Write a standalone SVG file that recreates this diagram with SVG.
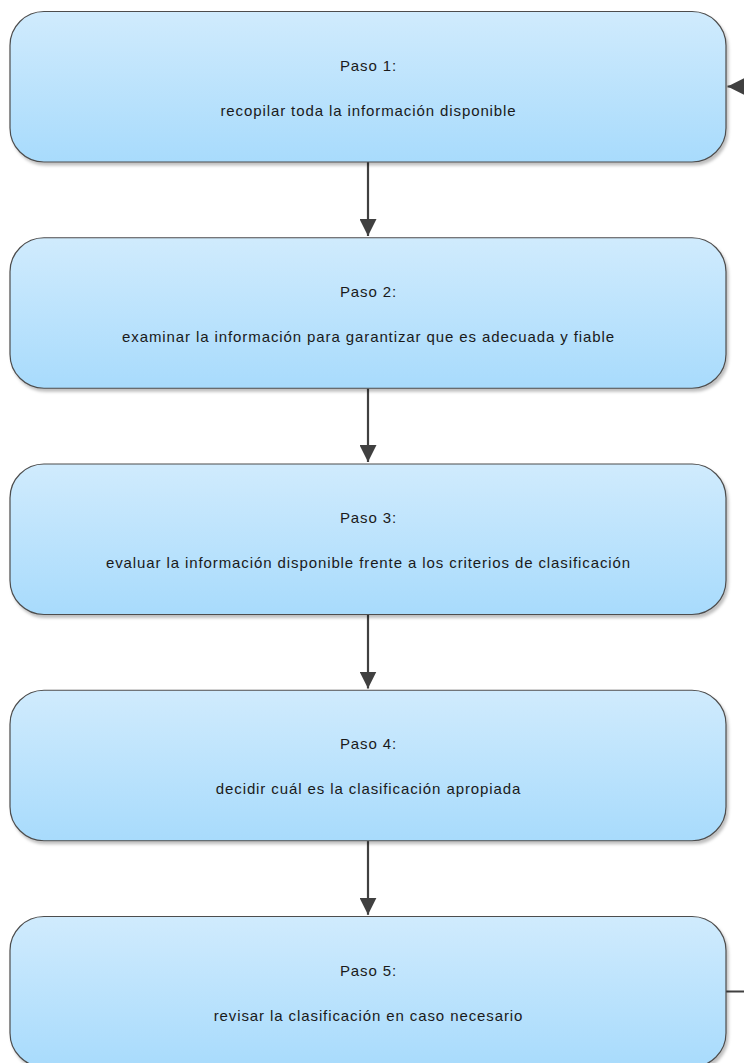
<svg xmlns="http://www.w3.org/2000/svg" width="744" height="1063" viewBox="0 0 744 1063">
<style>
.box{fill:url(#g);stroke:#4d4d4d;stroke-width:1.2;filter:url(#sh)}
.t{font-family:"Liberation Sans",Arial,sans-serif;font-size:15px;fill:#1a1a1a;text-anchor:middle;letter-spacing:0.9px}
.c{fill:none;stroke:#404040;stroke-width:2.2}
</style>
<defs>
<linearGradient id="g" x1="0" y1="0" x2="0" y2="1">
<stop offset="0" stop-color="#d0ebfd"/>
<stop offset="1" stop-color="#a8dbfc"/>
</linearGradient>
<filter id="sh" x="-5%" y="-10%" width="115%" height="130%">
<feDropShadow dx="2" dy="3" stdDeviation="1.5" flood-color="#000" flood-opacity="0.25"/>
</filter>
<marker id="ah" viewBox="0 0 10 10" refX="10" refY="5" markerWidth="17" markerHeight="17" markerUnits="userSpaceOnUse" orient="auto">
<path d="M0,0 L10,5 L0,10 Z" fill="#404040"/>
</marker>
</defs>
<g id="connectors">
<path class="c" d="M368,162 V236" marker-end="url(#ah)"/>
<path class="c" d="M368,388.5 V462" marker-end="url(#ah)"/>
<path class="c" d="M368,614.5 V688.5" marker-end="url(#ah)"/>
<path class="c" d="M368,840.8 V914.8" marker-end="url(#ah)"/>
<path class="c" d="M726,991.5 H752 V86.5 H727.5" marker-end="url(#ah)"/>
</g>
<g id="paso1">
<rect class="box" x="10" y="11.5" width="716" height="150.5" rx="34" ry="34"/>
<text class="t" x="368.5" y="70.5">Paso 1:</text>
<text class="t" x="368.5" y="115.5">recopilar toda la información disponible</text>
</g>
<g id="paso2">
<rect class="box" x="10" y="237.75" width="716" height="150.5" rx="34" ry="34"/>
<text class="t" x="368.5" y="296.75">Paso 2:</text>
<text class="t" x="368.5" y="341.75">examinar la información para garantizar que es adecuada y fiable</text>
</g>
<g id="paso3">
<rect class="box" x="10" y="464" width="716" height="150.5" rx="34" ry="34"/>
<text class="t" x="368.5" y="523">Paso 3:</text>
<text class="t" x="368.5" y="568">evaluar la información disponible frente a los criterios de clasificación</text>
</g>
<g id="paso4">
<rect class="box" x="10" y="690.25" width="716" height="150.5" rx="34" ry="34"/>
<text class="t" x="368.5" y="749.25">Paso 4:</text>
<text class="t" x="368.5" y="794.25">decidir cuál es la clasificación apropiada</text>
</g>
<g id="paso5">
<rect class="box" x="10" y="916.5" width="716" height="150.5" rx="34" ry="34"/>
<text class="t" x="368.5" y="975.5">Paso 5:</text>
<text class="t" x="368.5" y="1020.5">revisar la clasificación en caso necesario</text>
</g>
</svg>
